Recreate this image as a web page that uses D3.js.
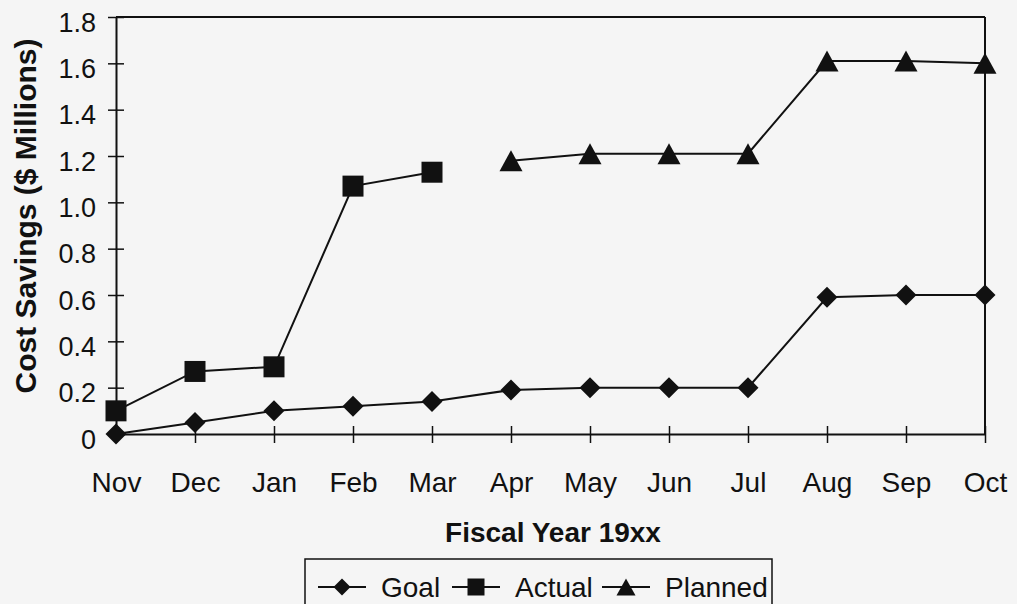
<!DOCTYPE html>
<html>
<head>
<meta charset="utf-8">
<script src="https://cdn.jsdelivr.net/npm/d3@7"></script>
<style>
  html, body { margin: 0; padding: 0; background: #f5f5f5; }
  svg { display: block; }
  text { font-family: "Liberation Sans", Arial, sans-serif; fill: #111; }
</style>
</head>
<body>
<svg id="chart" width="1017" height="604"></svg>
<script>
const months = ["Nov","Dec","Jan","Feb","Mar","Apr","May","Jun","Jul","Aug","Sep","Oct"];
const goal    = [0, 0.05, 0.10, 0.12, 0.14, 0.19, 0.20, 0.20, 0.20, 0.59, 0.60, 0.60];
const actual  = [0.10, 0.27, 0.29, 1.07, 1.13, null, null, null, null, null, null, null];
const planned = [null, null, null, null, null, 1.18, 1.21, 1.21, 1.21, 1.61, 1.61, 1.60];
const yTicks  = [0, 0.2, 0.4, 0.6, 0.8, 1.0, 1.2, 1.4, 1.6, 1.8];
const seriesNames = ["Goal", "Actual", "Planned"];
const xTitle = "Fiscal Year 19xx";
const yTitle = "Cost Savings ($ Millions)";

const svg = d3.select("#chart");
const L = 116, R = 985, T = 17, B = 434;

const x = d3.scalePoint().domain(months).range([L, R]).padding(0);
const y = d3.scaleLinear().domain([0, 1.8]).range([B, T]);

const ink = "#111";
const FONT = '"Liberation Sans", Arial, sans-serif';

// frame top and right
svg.append("line").attr("x1", L).attr("x2", R).attr("y1", T).attr("y2", T)
  .attr("stroke", ink).attr("stroke-width", 2);
svg.append("line").attr("x1", R).attr("x2", R).attr("y1", T).attr("y2", B)
  .attr("stroke", ink).attr("stroke-width", 2);

// y axis
const yAxis = d3.axisLeft(y).tickValues(yTicks)
  .tickSizeInner(8).tickSizeOuter(0).tickPadding(0)
  .tickFormat(d => d === 0 ? "0" : d.toFixed(1));
const gy = svg.append("g").attr("transform", `translate(${L},0)`).call(yAxis);
gy.select(".domain").attr("stroke", ink).attr("stroke-width", 2);
gy.selectAll(".tick line").attr("x2", -8).attr("x1", 8).attr("stroke", ink).attr("stroke-width", 1.5);
gy.selectAll(".tick text").attr("x", -20).attr("dy", "0.52em")
  .attr("font-size", 27).attr("fill", ink).style("font-family", FONT);

// x axis
const xAxis = d3.axisBottom(x).tickSizeInner(8).tickSizeOuter(0).tickPadding(0);
const gx = svg.append("g").attr("transform", `translate(0,${B})`).call(xAxis);
gx.select(".domain").attr("stroke", ink).attr("stroke-width", 2);
gx.selectAll(".tick line").attr("y1", -8).attr("y2", 9).attr("stroke", ink).attr("stroke-width", 1.5);
gx.selectAll(".tick text").attr("y", 58).attr("dy", 0)
  .attr("font-size", 28).attr("fill", ink).style("font-family", FONT);

// titles
svg.append("text").attr("x", 553).attr("y", 542).attr("text-anchor", "middle")
  .attr("font-size", 28).attr("font-weight", "bold").text(xTitle);
svg.append("text").attr("transform", "translate(36,216) rotate(-90)")
  .attr("text-anchor", "middle").attr("font-size", 30).attr("font-weight", "bold").text(yTitle);

// marker shapes
function triPath(w, h) {
  return `M0,${-h/2}L${w/2},${h/2}L${-w/2},${h/2}Z`;
}
function diamondPath(w, h) {
  return `M0,${-h/2}L${w/2},0L0,${h/2}L${-w/2},0Z`;
}
function squarePath(s) {
  return `M${-s/2},${-s/2}h${s}v${s}h${-s}Z`;
}
const markers = [diamondPath(21, 21), squarePath(21), triPath(23, 21)];
const lgMarkers = [diamondPath(17, 17), squarePath(17), triPath(19, 17)];

// series
const series = [goal, actual, planned];
const line = d3.line().defined(d => d.v !== null).x(d => x(d.m)).y(d => y(d.v));

series.forEach((vals, i) => {
  const data = months.map((m, j) => ({ m, v: vals[j] }));
  svg.append("path").datum(data).attr("d", line)
    .attr("fill", "none").attr("stroke", ink).attr("stroke-width", 2);
  svg.append("g").selectAll("path").data(data.filter(d => d.v !== null)).join("path")
    .attr("d", markers[i])
    .attr("transform", d => `translate(${x(d.m)},${y(d.v)})`)
    .attr("fill", ink);
});

// legend
const lg = svg.append("g");
lg.append("rect").attr("x", 305).attr("y", 559).attr("width", 467).attr("height", 60)
  .attr("fill", "none").attr("stroke", ink).attr("stroke-width", 1.5);
const textX = [381, 515, 665];
seriesNames.forEach((name, i) => {
  const x1 = textX[i] - 63, x2 = textX[i] - 15;
  lg.append("line").attr("x1", x1).attr("x2", x2).attr("y1", 587).attr("y2", 587)
    .attr("stroke", ink).attr("stroke-width", 2);
  lg.append("path").attr("d", lgMarkers[i]).attr("transform", `translate(${(x1 + x2) / 2},587)`)
    .attr("fill", ink);
  lg.append("text").attr("x", textX[i]).attr("y", 597).attr("font-size", 28).text(name);
});
</script>
</body>
</html>
